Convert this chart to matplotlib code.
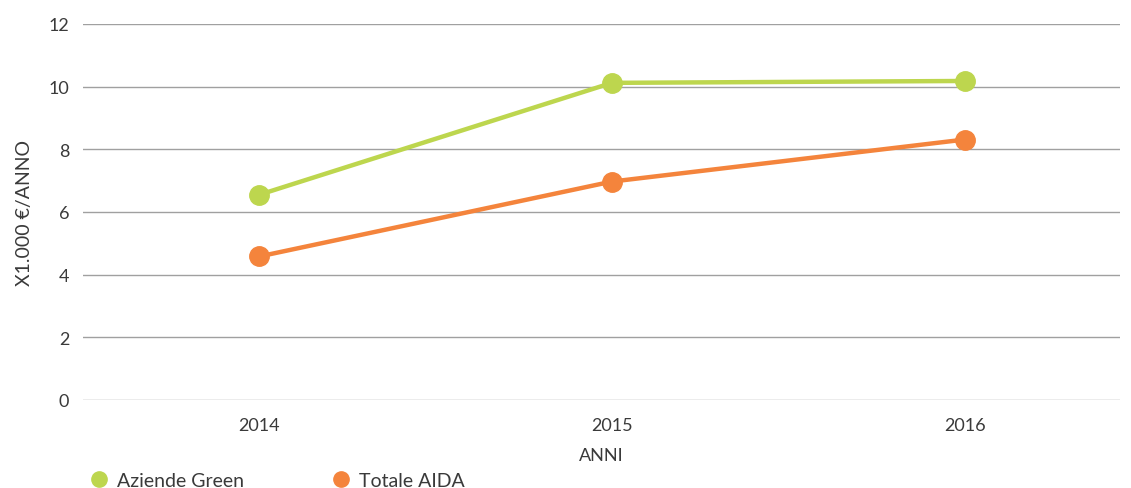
import matplotlib.pyplot as plt
from matplotlib.lines import Line2D

plt.rcParams['font.family'] = ['Lato', 'DejaVu Sans']

# data
years = ['2014', '2015', '2016']
aziende_green = [6.55, 10.12, 10.18]
totale_aida = [4.58, 6.97, 8.31]

GREEN = '#bdd64e'
ORANGE = '#f4843c'
TEXT = '#3a3a3a'

fig = plt.figure(figsize=(11.31, 4.89), dpi=100)
ax = fig.add_axes([0.0734, 0.180, 0.9166, 0.769])

x = range(len(years))
ax.plot(x, aziende_green, color=GREEN, lw=3.2, marker='o', markersize=14, zorder=3)
ax.plot(x, totale_aida, color=ORANGE, lw=3.2, marker='o', markersize=14, zorder=3)

ax.set_ylim(0, 12)
ax.set_yticks(range(0, 13, 2))
ax.set_xlim(-0.5, 2.44)
ax.set_xticks(list(x))
ax.set_xticklabels(years)
ax.grid(axis='y', color='#a0a0a0', lw=1)
ax.set_axisbelow(True)
for s in ax.spines.values():
    s.set_visible(False)
ax.tick_params(length=0, labelsize=13, colors=TEXT, pad=10)
ax.tick_params(axis='x', pad=12)

ax.set_xlabel('ANNI', fontsize=13, color=TEXT, labelpad=10)
ax.set_ylabel('X1.000 €/ANNO', fontsize=14, color=TEXT, labelpad=11)

handles = [
    Line2D([], [], ls='none', marker='o', color=GREEN, markersize=11),
    Line2D([], [], ls='none', marker='o', color=ORANGE, markersize=11),
]
fig.legend(handles, ['Aziende Green', 'Totale AIDA'], loc='lower left',
           bbox_to_anchor=(0.062, -0.038), ncol=2, frameon=False,
           fontsize=14, labelcolor=TEXT, handletextpad=0.3,
           columnspacing=4.4, handlelength=1.2)

fig.savefig('out.png', dpi=100)
